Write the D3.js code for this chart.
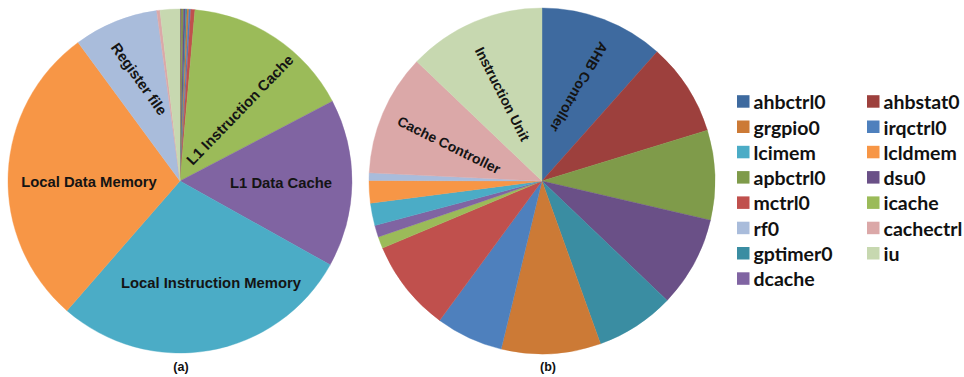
<!DOCTYPE html>
<html>
<head>
<meta charset="utf-8">
<script src="https://cdn.jsdelivr.net/npm/d3@7/dist/d3.min.js"></script>
<style>
  html, body { margin: 0; padding: 0; background: #ffffff; }
  svg { display: block; }
  text { font-family: "Liberation Sans", Arial, sans-serif; }
  text.legend-label { font-family: Lato, "Liberation Sans", sans-serif; }
</style>
</head>
<body>
<svg id="chart" width="964" height="377"></svg>
<script>
// Hardware modules, in the clockwise order the slices are drawn
const modules = ["ahbctrl0", "ahbstat0", "apbctrl0", "dsu0", "gptimer0", "grgpio0",
  "irqctrl0", "mctrl0", "icache", "dcache", "lcimem", "lcldmem", "rf0", "cachectrl", "iu"];

// Share of each module (%) — pie (a)
const shareA = [0.08, 0.08, 0.17, 0.19, 0.14, 0.17, 0.17, 0.39,
  15.94, 15.78, 28.31, 28.50, 7.92, 0.31, 1.86];

// Share of each module (%) — pie (b)
const shareB = [11.6, 8.7, 8.4, 8.5, 7.4, 9.3, 6.3, 8.6,
  1.1, 1.1, 2.1, 2.1, 0.7, 11.4, 12.9];

// Legend entries, read row by row across two columns
const legendOrder = ["ahbctrl0", "ahbstat0", "grgpio0", "irqctrl0", "lcimem", "lcldmem",
  "apbctrl0", "dsu0", "mctrl0", "icache", "rf0", "cachectrl", "gptimer0", "iu", "dcache"];

// Slice text labels
const labelsA = ["Register file", "L1 Instruction Cache", "L1 Data Cache",
  "Local Data Memory", "Local Instruction Memory"];
const labelsB = ["AHB Controller", "Instruction Unit", "Cache Controller"];

const captions = ["(a)", "(b)"];

const colors = {
  ahbctrl0: "#3e6a9f", ahbstat0: "#9d403d", apbctrl0: "#7f9b4a", dsu0: "#6a5087",
  gptimer0: "#3a8da2", grgpio0: "#cc7a36", irqctrl0: "#4e80bd", mctrl0: "#c0504d",
  icache: "#9bbb59", dcache: "#8064a2", lcimem: "#4bacc6", lcldmem: "#f79646",
  rf0: "#a9bcdb", cachectrl: "#dba8a8", iu: "#c7d8b0"
};

const svg = d3.select("#chart");
const color = d3.scaleOrdinal().domain(modules).range(modules.map(m => colors[m]));

const pie = d3.pie().sort(null).value(d => d.value).startAngle(0).endAngle(2 * Math.PI);

function drawPie(cx, cy, r, values) {
  const data = modules.map((m, i) => ({ name: m, value: values[i] }));
  const arc = d3.arc().innerRadius(0).outerRadius(r);
  const g = svg.append("g").attr("transform", `translate(${cx},${cy})`);
  g.selectAll("path")
    .data(pie(data))
    .join("path")
    .attr("d", arc)
    .attr("fill", d => color(d.data.name))
    .attr("stroke", d => color(d.data.name))
    .attr("stroke-width", 0.4);
  return g;
}

const gA = drawPie(180, 181, 172, shareA);
const gB = drawPie(542, 181, 173, shareB);

// Label placement relative to each pie centre: [dx, dy, rotation]
const placeA = [[-41, -102, 54.5], [60, -71, -46], [101, 2, 0], [-91, 1, 0], [31, 102, 0]];
const placeB = [[37, -94, 120], [-39.5, -87, 63], [-93, -36, 26.2]];

function addLabels(g, labels, place, size) {
  g.selectAll("text.slice-label")
    .data(labels)
    .join("text")
    .attr("class", "slice-label")
    .attr("transform", (d, i) => `translate(${place[i][0]},${place[i][1]}) rotate(${place[i][2]})`)
    .attr("text-anchor", "middle")
    .attr("dominant-baseline", "central")
    .attr("font-size", size)
    .attr("font-weight", "bold")
    .attr("fill", "#141414")
    .text(d => d);
}
addLabels(gA, labelsA, placeA, 14.8);
addLabels(gB, labelsB, placeB, 14);

// Captions under each pie
svg.selectAll("text.caption")
  .data(captions)
  .join("text")
  .attr("class", "caption")
  .attr("x", (d, i) => [181, 548][i])
  .attr("y", 367)
  .attr("text-anchor", "middle")
  .attr("dominant-baseline", "central")
  .attr("font-size", 12.5)
  .attr("font-weight", "bold")
  .attr("fill", "#111")
  .text(d => d);

// Legend: two columns
const legend = svg.append("g");
const item = legend.selectAll("g")
  .data(legendOrder)
  .join("g")
  .attr("transform", (d, i) => `translate(${i % 2 === 0 ? 737 : 867},${101.7 + Math.floor(i / 2) * 25.3})`);
item.append("rect")
  .attr("x", 0).attr("y", -6.5)
  .attr("width", 12.5).attr("height", 12.5)
  .attr("fill", d => color(d));
item.append("text")
  .attr("class", "legend-label")
  .attr("x", 16.5)
  .attr("y", 0)
  .attr("dominant-baseline", "central")
  .attr("font-size", 19.5)
  .attr("font-weight", "bold")
  .attr("fill", "#111")
  .text(d => d);
</script>
</body>
</html>
